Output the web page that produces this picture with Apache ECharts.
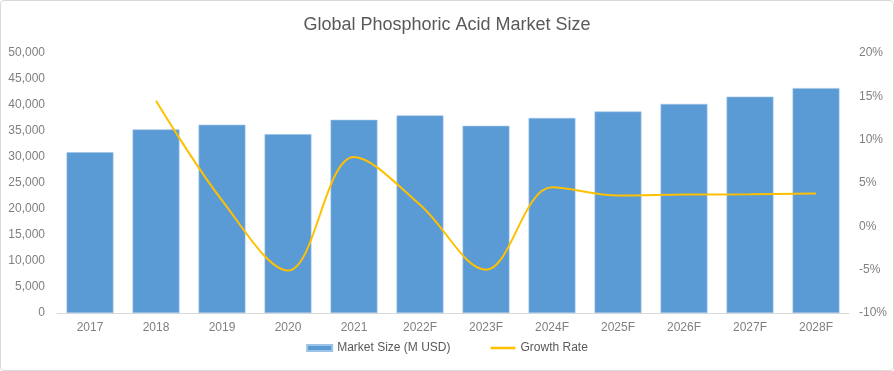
<!DOCTYPE html>
<html>
<head>
<meta charset="utf-8">
<script src="https://cdn.jsdelivr.net/npm/echarts@6/dist/echarts.min.js"></script>
<style>
html,body{margin:0;padding:0;background:#fff;}
#c{width:894px;height:371px;box-sizing:border-box;border:1px solid #D9D9D9;border-radius:4px;}
</style>
</head>
<body>
<div id="c"></div>
<script>
const categories = ['2017','2018','2019','2020','2021','2022F','2023F','2024F','2025F','2026F','2027F','2028F'];
const marketSize = [30900, 35300, 36200, 34400, 37150, 38000, 36000, 37500, 38750, 40200, 41600, 43250];
const growthRate = [null, 14.5, 3.0, -5.1, 8.0, 2.5, -5.0, 4.5, 3.55, 3.67, 3.7, 3.8];

const chart = echarts.init(document.getElementById('c'), null, {renderer:'canvas'});
const grey = '#595959';
const lgrey = '#808080';
const font = 'Liberation Sans, Arial, sans-serif';
chart.setOption({
  animation:false,
  textStyle:{fontFamily:font},
  title:{text:'Global Phosphoric Acid Market Size',left:'center',top:10,
    textStyle:{fontSize:18,fontWeight:'normal',color:grey,fontFamily:font}},
  legend:{bottom:11,left:'center',itemGap:40,itemWidth:25,itemHeight:6,
    textStyle:{fontSize:12,color:grey,fontFamily:font},
    data:[{name:'Market Size (M USD)',icon:'rect'},{name:'Growth Rate',icon:'path://M0,0H10V1H0Z'}]},
  grid:{left:56,right:44,top:52,bottom:57},
  xAxis:{type:'category',data:categories,
    axisLine:{lineStyle:{color:'#D9D9D9'}},axisTick:{show:false},
    axisLabel:{color:lgrey,fontSize:12,margin:9}},
  yAxis:[
    {type:'value',min:0,max:50000,interval:5000,splitLine:{show:false},
     axisLine:{show:false},axisTick:{show:false},
     axisLabel:{color:lgrey,fontSize:12,margin:12,formatter:v=>v.toLocaleString('en-US')}},
    {type:'value',min:-10,max:20,interval:5,splitLine:{show:false},
     axisLine:{show:false},axisTick:{show:false},
     axisLabel:{color:lgrey,fontSize:12,margin:10,formatter:v=>v+'%'}}
  ],
  series:[
    {name:'Market Size (M USD)',type:'bar',data:marketSize,barCategoryGap:'29%',
     itemStyle:{color:'#5B9BD5',borderColor:'#9DC3E6',borderWidth:0.6}},
    {name:'Growth Rate',type:'line',yAxisIndex:1,data:growthRate,smooth:0.35,
     showSymbol:false,symbol:'none',connectNulls:false,
     lineStyle:{color:'#FFC000',width:2},itemStyle:{color:'#FFC000'}}
  ]
});
</script>
</body>
</html>
